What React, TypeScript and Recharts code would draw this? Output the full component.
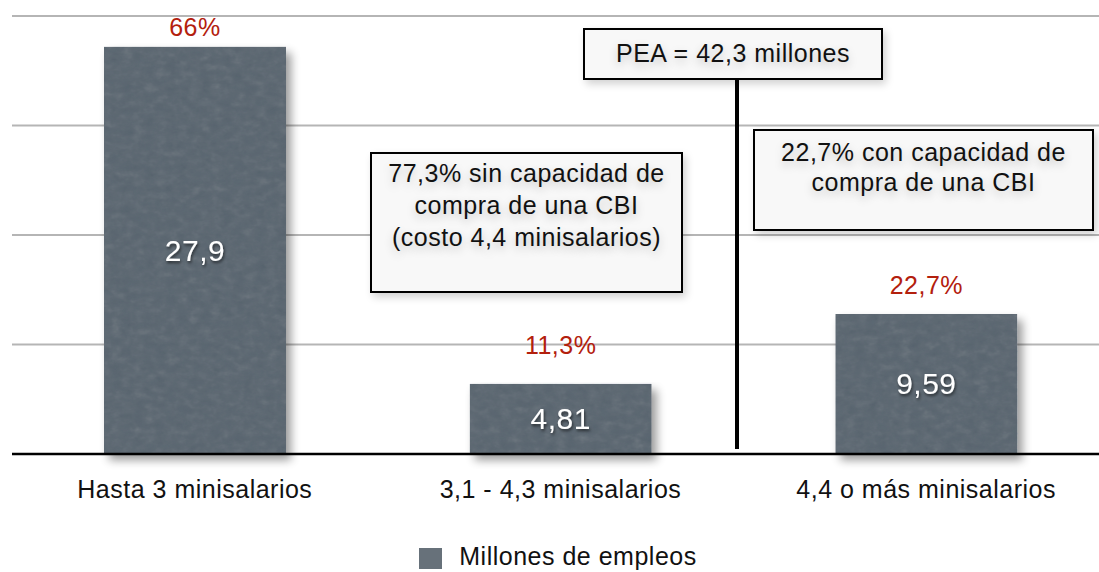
import React from "react";
import {
  BarChart,
  Bar,
  XAxis,
  YAxis,
  CartesianGrid,
  Legend,
  LabelList,
} from "recharts";

const categories = [
  "Hasta 3 minisalarios",
  "3,1 - 4,3 minisalarios",
  "4,4 o más minisalarios",
];
const empleos = [27.9, 4.81, 9.59];
const shares = ["66%", "11,3%", "22,7%"];
const yTicks = [0, 7.5, 15, 22.5, 30];

const data = categories.map((name, i) => ({
  name,
  empleos: empleos[i],
  share: shares[i],
}));

const FONT = "'Liberation Sans', Arial, Helvetica, sans-serif";
const BAR = "#67717a";
const RED = "#b3200d";
// gap between bar top and the percentage label, per bar
const PCT_GAP = [20, 39, 29];

const comma = (v: number) => String(v).replace(".", ",");

const BarShape = (p: any) => (
  <rect x={p.x} y={p.y} width={p.width} height={p.height} fill={BAR} filter="url(#barFx)" />
);

const ValueLabel = (p: any) => (
  <text
    x={p.x + p.width / 2}
    y={p.y + p.height / 2}
    textAnchor="middle"
    dominantBaseline="central"
    fill="#fff"
    fontSize={30}
    filter="url(#txtShadow)"
    style={{ letterSpacing: "0.5px" }}
  >
    {comma(p.value)}
  </text>
);

const ShareLabel = (p: any) => (
  <text
    x={p.x + p.width / 2}
    y={p.y - PCT_GAP[p.index]}
    textAnchor="middle"
    dominantBaseline="central"
    fill={RED}
    fontSize={25}
    style={{ letterSpacing: "0.5px" }}
  >
    {p.value}
  </text>
);

const LegendBox = () => (
  <div style={{ display: "flex", alignItems: "flex-start", justifyContent: "center", fontSize: 25, letterSpacing: "0.5px", color: "#111" }}>
    <span style={{ width: 23, height: 21, background: BAR, marginTop: 6, marginRight: 17, display: "inline-block" }} />
    <span>Millones de empleos</span>
  </div>
);

const boxStyle: React.CSSProperties = {
  position: "absolute",
  boxSizing: "border-box",
  border: "2.5px solid #000",
  background: "#f8f8f8",
  boxShadow: "3px 4px 8px rgba(0,0,0,0.18)",
  textAlign: "center",
  fontSize: 25,
  letterSpacing: "0.5px",
  color: "#111",
  textShadow: "0 4px 10px rgba(0,0,0,0.22)",
};

export default function App() {
  return (
    <div
      style={{
        position: "fixed",
        left: 0,
        top: 0,
        width: 1099,
        height: 572,
        overflow: "hidden",
        background: "#fff",
        fontFamily: FONT,
      }}
    >
      <BarChart
        width={1109}
        height={572}
        data={data}
        margin={{ top: 16, right: 0, left: 12, bottom: 29 }}
        style={{ fontFamily: FONT }}
      >
        <defs>
          <filter id="barFx" x="-10%" y="-10%" width="130%" height="130%">
            <feTurbulence type="fractalNoise" baseFrequency="0.09 0.14" numOctaves="3" seed="7" result="noise" />
            <feColorMatrix in="noise" type="saturate" values="0" result="gnoise" />
            <feComposite in="SourceGraphic" in2="gnoise" operator="arithmetic" k1="0" k2="1" k3="0.1" k4="-0.05" result="tex" />
            <feComposite in="tex" in2="SourceAlpha" operator="in" result="texClip" />
            <feGaussianBlur in="SourceAlpha" stdDeviation="5" result="blur" />
            <feOffset in="blur" dx="5" dy="6" result="off" />
            <feComponentTransfer in="off" result="shadow">
              <feFuncA type="linear" slope="0.4" />
            </feComponentTransfer>
            <feMerge>
              <feMergeNode in="shadow" />
              <feMergeNode in="texClip" />
            </feMerge>
          </filter>
          <filter id="txtShadow" x="-20%" y="-30%" width="140%" height="160%">
            <feDropShadow dx="1" dy="2" stdDeviation="1.5" floodColor="#000" floodOpacity="0.6" />
          </filter>
        </defs>
        <CartesianGrid vertical={false} stroke="#b5b5b5" strokeWidth={2} />
        <YAxis hide domain={[0, 30]} ticks={yTicks} />
        <XAxis
          dataKey="name"
          height={60}
          tickSize={0}
          tickMargin={26}
          axisLine={{ stroke: "#000", strokeWidth: 2.5 }}
          tick={{ fill: "#111", fontSize: 25, style: { letterSpacing: "0.5px" } }}
        />
        <Legend
          content={<LegendBox />}
          wrapperStyle={{ top: 542, left: 0, width: 1116 }}
        />
        <Bar dataKey="empleos" name="Millones de empleos" barSize={182} shape={BarShape} isAnimationActive={false}>
          <LabelList dataKey="empleos" content={ValueLabel} />
          <LabelList dataKey="share" content={ShareLabel} />
        </Bar>
      </BarChart>

      <div style={{ ...boxStyle, left: 583, top: 28, width: 300, height: 52, lineHeight: "47px" }}>
        PEA = 42,3 millones
      </div>
      <div style={{ position: "absolute", left: 735, top: 80, width: 4, height: 369, background: "#000" }} />
      <div style={{ ...boxStyle, left: 370, top: 152, width: 313, height: 141, lineHeight: "32px", paddingTop: 3 }}>
        77,3% sin capacidad de
        <br />
        compra de una CBI
        <br />
        (costo 4,4 minisalarios)
      </div>
      <div style={{ ...boxStyle, left: 753, top: 129, width: 341, height: 102, lineHeight: "30px", paddingTop: 6 }}>
        22,7% con capacidad de
        <br />
        compra de una CBI
      </div>
    </div>
  );
}
